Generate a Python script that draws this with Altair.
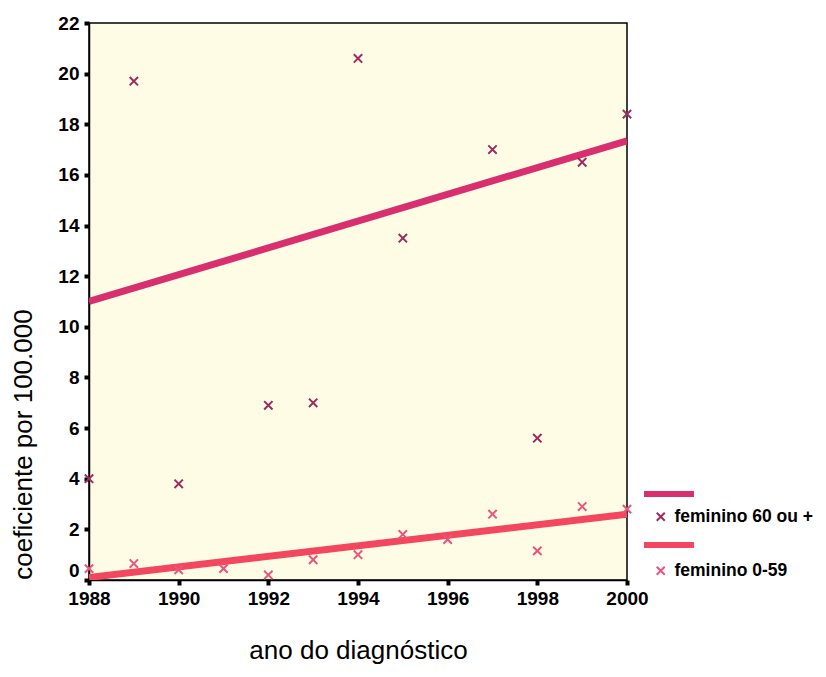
import altair as alt
import pandas as pd

groups = ["feminino 60 ou +", "feminino 0-59"]

years_60 = [1988, 1989, 1990, 1992, 1993, 1994, 1995, 1997, 1998, 1999, 2000]
vals_60 = [4.0, 19.7, 3.8, 6.9, 7.0, 20.6, 13.5, 17.0, 5.6, 16.5, 18.4]

years_059 = [1988, 1989, 1990, 1991, 1992, 1993, 1994, 1995, 1996, 1997, 1998, 1999, 2000]
vals_059 = [0.45, 0.65, 0.4, 0.45, 0.2, 0.8, 1.0, 1.8, 1.6, 2.6, 1.15, 2.9, 2.8]

fit_years = [1988, 2000]
fit_60 = [11.0, 17.35]
fit_059 = [0.1, 2.6]

x_ticks = [1988, 1990, 1992, 1994, 1996, 1998, 2000]
y_ticks = list(range(0, 23, 2))

point_colors = ["#9b2b60", "#e9557c"]
line_colors = ["#d8306e", "#f2475e"]

pts = pd.DataFrame(
    {"ano": years_60 + years_059,
     "valor": vals_60 + vals_059,
     "grupo": [groups[0]] * len(years_60) + [groups[1]] * len(years_059)}
)
fits = pd.DataFrame(
    {"ano": fit_years + fit_years,
     "valor": fit_60 + fit_059,
     "linha": [groups[0]] * 2 + [groups[1]] * 2}
)

x_enc = alt.X(
    "ano:Q",
    scale=alt.Scale(domain=[1988, 2000], nice=False, zero=False),
    axis=alt.Axis(values=x_ticks, format="d", title="ano do diagnóstico",
                  titlePadding=29, labelPadding=4, labelFlush=False),
)
y_enc = alt.Y(
    "valor:Q",
    scale=alt.Scale(domain=[0, 22], nice=False),
    axis=alt.Axis(values=y_ticks, title="coeficiente por 100.000",
                  titleX=-53, titleY=421, titleAlign="center", titleAngle=270,
                  labelPadding=5, labelFlush=False,
                  labelBaseline={"condition": {"test": "datum.value == 0", "value": "bottom"},
                                 "value": "middle"}),
)

lines = alt.Chart(fits).mark_line(strokeWidth=7, clip=True).encode(
    x=x_enc,
    y=y_enc,
    stroke=alt.Stroke(
        "linha:N",
        scale=alt.Scale(domain=groups, range=line_colors),
        legend=alt.Legend(
            title=None, orient="none", legendX=552, legendY=443,
            symbolType="stroke", symbolSize=2500, symbolStrokeWidth=6,
            labelExpr="''", rowPadding=11, padding=0,
        ),
    ),
    detail="linha:N",
)

points = alt.Chart(pts).mark_point(
    shape="M-1,-1L1,1M1,-1L-1,1", size=70, strokeWidth=2, filled=False, opacity=1
).encode(
    x="ano:Q",
    y="valor:Q",
    color=alt.Color(
        "grupo:N",
        scale=alt.Scale(domain=groups, range=point_colors),
        legend=alt.Legend(
            title=None, orient="none", legendX=563, legendY=485,
            symbolType="M-1,-1L1,1M1,-1L-1,1", symbolSize=64, symbolStrokeWidth=2,
            labelFont="Liberation Sans", labelFontSize=17.5, labelFontWeight="bold",
            labelColor="black", labelOffset=5, rowPadding=35, padding=0,
            labelLimit=0,
        ),
    ),
)

chart = alt.layer(lines, points).resolve_legend(color="independent", stroke="independent").properties(
    width=538, height=557,
    autosize=alt.AutoSizeParams(type="none"),
    padding={"left": 81, "top": 15, "right": 191, "bottom": 89},
).configure_view(
    fill="#fffce6", stroke="black", strokeWidth=1.5
).configure_axis(
    domainColor="black", domainWidth=1.5, tickColor="black", tickWidth=4, tickSize=5,
    grid=False, labelFont="Liberation Sans", labelFontSize=19, labelFontWeight="bold",
    labelColor="black", titleFont="Liberation Sans", titleFontSize=26,
    titleFontWeight="normal", titleColor="black",
)

chart.save("out.html", embed_options={"renderer": "svg", "actions": False})
